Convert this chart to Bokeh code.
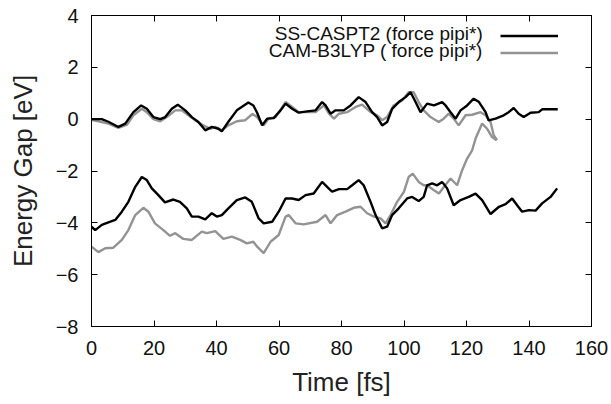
from bokeh.plotting import figure
from bokeh.models import LinearAxis, FixedTicker, Legend, LegendItem, Range1d, Label
from bokeh.core.properties import value
from bokeh.embed import file_html
from bokeh.resources import INLINE

# ---------------- data ----------------
caspt2_up_t = [0, 3.3, 5.4, 8.6, 10.8, 13.4, 15.9, 17.7, 19.8, 22, 23.6, 25.7, 27.6, 30, 32.1,
               34.2, 36.4, 38.5, 40.6, 41.7, 43.8, 46.5, 50.2, 51.8, 53, 54.6, 56.2, 58.3, 60.5,
               62.1, 64.2, 66.3, 69, 71.7, 73.8, 74.9, 76.5, 78.1, 80.7, 82.9, 85.5, 87.7, 89.8,
               91.4, 93, 94.6, 96.2, 98.3, 100.5, 102.1, 103.7, 105.3, 107.4, 109.6, 112.2, 113.3,
               114.9, 116.5, 118.1, 120.2, 122.3, 124, 126.1, 127.1, 129.3, 131.9, 133.5, 135.1,
               136.7, 138.3, 140.5, 143.1, 144.2, 149.2]
caspt2_up_v = [0, 0, -0.1, -0.3, -0.17, 0.27, 0.53, 0.4, 0.08, 0, 0.08, 0.4, 0.56, 0.34, 0.08,
               -0.11, -0.43, -0.3, -0.37, -0.47, -0.1, 0.34, 0.64, 0.53, 0.25, -0.24, 0.02, 0.04, 0.34,
               0.6, 0.4, 0.25, 0.3, 0.34, 0.66, 0.53, 0.21, 0.34, 0.34, 0.53, 0.85, 0.66, 0.27,
               0.08, -0.24, -0.11, 0.4, 0.66, 0.85, 1.04, 0.66, 0.27, 0.6, 0.53, 0.66, 0.53,
               0.27, 0.02, 0.34, 0.53, 0.79, 0.66, 0.27, -0.05, 0.02, 0.15, 0.27, 0.43,
               0.21, 0.08, 0.25, 0.27, 0.38, 0.38]

cam_up_t = [0, 2.2, 5.4, 8.6, 11.4, 13.4, 16.1, 17.7, 19.8, 22, 24.1, 26.8, 28.9, 31, 33.2,
            35.8, 38, 39.6, 41.7, 43.8, 46.5, 49.2, 51.5, 53, 55.1, 56.7, 58.9, 62.1, 64.2, 66.3,
            69.5, 71.7, 74.4, 76, 77.6, 79.2, 81.8, 84.5, 86.6, 89.3, 91.4, 93, 94.6, 96.7, 99.4,
            101.5, 103.1, 104.7, 106.3, 108.5, 111.1, 112.7, 114.3, 115.9, 117.5, 119.7, 121.8,
            124.5, 126.1, 127.7, 128.7, 129.8]
cam_up_v = [-0.03, -0.08, -0.17, -0.34, -0.21, 0.15, 0.4, 0.27, 0, -0.08, 0.08, 0.34, 0.34, 0.15, -0.04,
            -0.24, -0.37, -0.3, -0.43, -0.24, -0.08, -0.04, 0.2, 0.08, -0.24, 0.02, 0.08, 0.66, 0.47, 0.27,
            0.27, 0.27, 0.53, 0.21, 0.02, 0.21, 0.27, 0.47, 0.56, 0.27, 0.15, -0.04, 0.08, 0.53, 0.72,
            1.04, 1.04, 0.66, 0.34, 0.08, -0.11, 0.02, 0.21, 0.02, -0.24, 0.15, 0.17,
            0.27, 0.15, -0.11, -0.62, -0.81]

caspt2_low_t = [0, 1.2, 3.3, 5.4, 7.6, 9.7, 11.8, 14, 16.1, 17.7, 19.3, 21.4, 23.5, 26.2, 28.3,
                30.5, 32.1, 34.2, 36.4, 38.5, 40.1, 41.7, 43.8, 46.5, 49.2, 51.3, 53.5, 55.1, 57.8,
                59.9, 62.1, 64.2, 66.3, 68.5, 71.1, 73.8, 75.4, 77, 79.2, 81.8, 83.4, 85.5, 87.1,
                89.3, 90.9, 93, 94.6, 96.2, 98.3, 101, 102.6, 104.7, 106.3, 107.4, 109, 110.6,
                112.2, 113.8, 115.9, 118.1, 120.7, 122.9, 125, 127.7, 130.4, 132.5, 134.6, 136.2,
                137.8, 140, 142.1, 144.2, 146.9, 149]
caspt2_low_v = [-4.15, -4.28, -4.08, -3.98, -3.89, -3.57, -3.19, -2.61, -2.23, -2.35, -2.67, -2.93, -3.21, -3.1, -3.19,
                -3.44, -3.76, -3.76, -3.87, -3.63, -3.76, -3.7, -3.44, -3.12, -3.02, -3.19, -3.83, -4.02, -3.96,
                -3.57, -3.06, -3.06, -3.12, -2.93, -2.87, -2.42, -2.61, -2.8, -2.7, -2.7, -2.55, -2.35, -2.55,
                -3.19, -3.7, -4.21, -4.15, -3.7, -3.44, -3.06, -3.0, -3.16, -3.0, -2.55, -2.48, -2.55,
                -2.42, -2.67, -3.32, -3.12, -3.0, -2.87, -3.12, -3.66, -3.38, -3.28, -3.06, -3.32,
                -3.57, -3.51, -3.53, -3.25, -3.0, -2.67]

cam_low_t = [0, 2.2, 4.4, 7, 9.7, 11.8, 14, 16.6, 18.2, 20.3, 23, 25.1, 26.8, 29.4, 32.1,
             35.3, 36.9, 39.6, 42.2, 44.9, 47.6, 49.7, 51.8, 53, 55.1, 57.3, 59.9, 62.1, 63.1, 65.3,
             67.9, 72.2, 74.9, 76.5, 78.6, 81.3, 83.9, 86.1, 88.2, 90.4, 92.5, 94.1, 95.7, 97.8, 100,
             101.5, 102.8, 104.7, 106.3, 107.4, 109.6, 111.2, 112.8, 114.9, 117, 118.6, 120.2,
             121.8, 122.9, 125, 126.6, 128.2, 129.6]
cam_low_v = [-4.92, -5.13, -4.98, -4.96, -4.66, -4.28, -3.7, -3.42, -3.57, -4.02, -4.28, -4.5, -4.4, -4.62, -4.66,
             -4.34, -4.4, -4.32, -4.62, -4.53, -4.66, -4.79, -4.73, -4.92, -5.17, -4.73, -4.47, -3.76, -3.7, -4.02,
             -4.06, -3.96, -3.7, -4.02, -3.7, -3.57, -3.42, -3.38, -3.63, -3.76, -3.83, -4.02, -3.7, -3.19, -2.8,
             -2.23, -2.1, -2.42, -2.55, -2.55, -2.74, -2.87, -2.61, -2.29, -2.55, -1.97, -1.52,
             -1.2, -0.75, -0.17, -0.37, -0.69, -0.81]

x_ticks = [0, 20, 40, 60, 80, 100, 120, 140, 160]
y_ticks = [-8, -6, -4, -2, 0, 2, 4]
series_names = ["SS-CASPT2 (force pipi*)", "CAM-B3LYP ( force pipi*)"]

# ---------------- figure ----------------
FONT = "Liberation Sans"
p = figure(frame_width=500, frame_height=311, output_backend="svg", toolbar_location=None,
           x_range=Range1d(0, 160), y_range=Range1d(-8, 4),
           min_border_left=91, min_border_top=15, min_border_right=19, min_border_bottom=76)
p.background_fill_color = "white"
p.border_fill_color = "white"
p.outline_line_color = "black"
p.xgrid.visible = False
p.ygrid.visible = False

BLACK = "#000000"
GRAY = "#939393"
r_gray_up = p.line(cam_up_t, cam_up_v, line_color=GRAY, line_width=2.4)
r_gray_low = p.line(cam_low_t, cam_low_v, line_color=GRAY, line_width=2.4)
r_black_up = p.line(caspt2_up_t, caspt2_up_v, line_color=BLACK, line_width=2.4)
r_black_low = p.line(caspt2_low_t, caspt2_low_v, line_color=BLACK, line_width=2.4)

def style_axis(ax, ticks, show_labels):
    ax.ticker = FixedTicker(ticks=ticks)
    ax.minor_tick_line_color = None
    ax.major_tick_in = 6
    ax.major_tick_out = 0
    ax.axis_line_color = "black"
    ax.major_tick_line_color = "black"
    if show_labels:
        ax.major_label_text_font = FONT
        ax.major_label_text_font_size = "20px"
        ax.major_label_text_color = "#111111"
        ax.axis_label_text_font = FONT
        ax.axis_label_text_font_size = "26px"
        ax.axis_label_text_font_style = "normal"
        ax.axis_label_text_color = "#222222"
    else:
        ax.major_label_text_color = None
        ax.major_label_text_font_size = "1px"
        ax.major_label_standoff = 0

style_axis(p.xaxis[0], x_ticks, True)
style_axis(p.yaxis[0], y_ticks, True)
p.xaxis[0].axis_label = "Time [fs]"
p.yaxis[0].axis_label = "Energy Gap [eV]"
p.xaxis[0].major_label_standoff = 14
p.xaxis[0].axis_label_standoff = 9
p.yaxis[0].major_label_standoff = 13
p.yaxis[0].axis_label_standoff = 15

top_ax = LinearAxis()
right_ax = LinearAxis()
style_axis(top_ax, x_ticks, False)
style_axis(right_ax, y_ticks, False)
p.add_layout(top_ax, "above")
p.add_layout(right_ax, "right")

# ---------------- legend (gnuplot style: text, then line sample) ----------------
legend = Legend(items=[LegendItem(label=value(""), renderers=[r_black_up]),
                       LegendItem(label=value(""), renderers=[r_gray_up])],
                location=(409, 265))
legend.glyph_width = 58
legend.glyph_height = 17
legend.label_height = 17
legend.label_width = 0
legend.label_standoff = 0
legend.padding = 0
legend.margin = 0
legend.spacing = 0
legend.border_line_alpha = 0
legend.background_fill_alpha = 0
p.add_layout(legend, "center")

legend_x = 125.2          # right end of the legend texts (data units)
legend_y = [3.32, 2.66]   # rows
for name, yy in zip(series_names, legend_y):
    p.add_layout(Label(x=legend_x, y=yy, text=name, text_align="right", text_baseline="middle",
                       text_font=FONT, text_font_size="19px", text_color="#111111"))

open("out.html", "w").write(file_html(p, INLINE))
